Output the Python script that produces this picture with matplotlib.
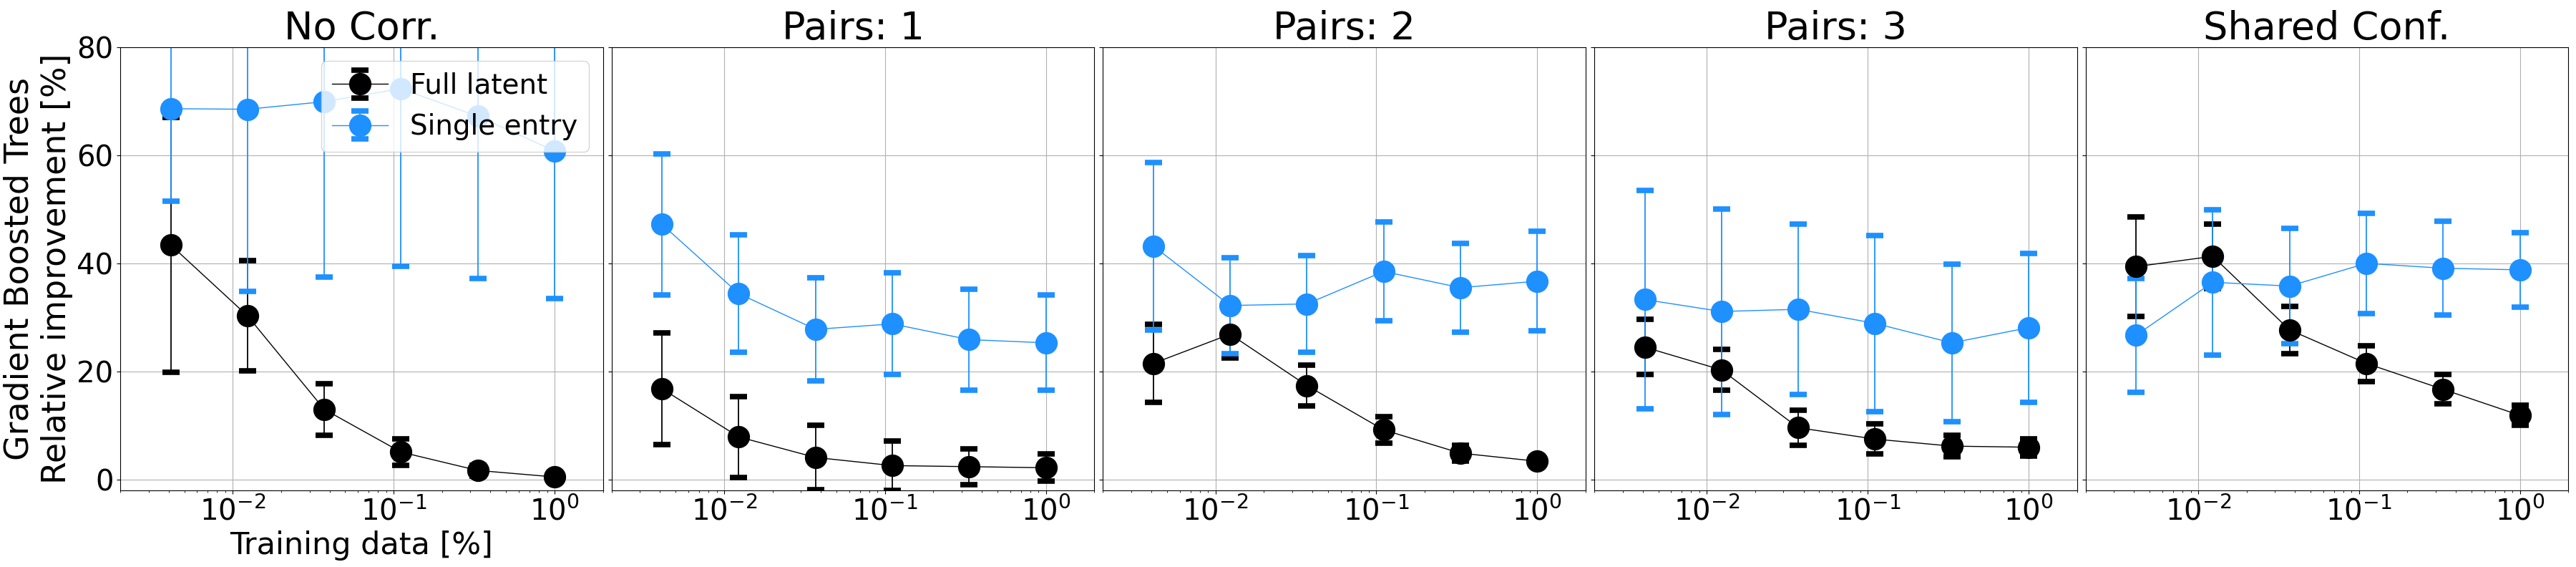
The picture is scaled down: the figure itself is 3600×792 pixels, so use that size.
import numpy as np
import matplotlib.pyplot as plt

# training fraction (same for every panel)
frac = [1/243, 1/81, 1/27, 1/9, 1/3, 1]

titles = ["No Corr.", "Pairs: 1", "Pairs: 2", "Pairs: 3", "Shared Conf."]

# Full latent : mean and error per panel
full_mean = [
    [43.4, 30.3, 13.0, 5.1, 1.7, 0.5],
    [16.8, 7.9, 4.1, 2.6, 2.4, 2.2],
    [21.5, 26.9, 17.4, 9.2, 4.9, 3.4],
    [24.5, 20.3, 9.6, 7.5, 6.2, 6.0],
    [39.4, 41.3, 27.7, 21.5, 16.7, 11.9],
]
full_err = [
    [23.6, 10.2, 4.8, 2.4, 1.0, 0.5],
    [10.3, 7.5, 5.9, 4.6, 3.3, 2.5],
    [7.2, 4.4, 3.8, 2.5, 1.4, 0.8],
    [5.1, 3.8, 3.3, 2.8, 2.0, 1.6],
    [9.2, 5.9, 4.4, 3.3, 2.7, 1.8],
]

# Single entry : mean and error per panel
single_mean = [
    [68.6, 68.5, 69.9, 72.3, 67.2, 60.8],
    [47.2, 34.4, 27.8, 28.8, 25.9, 25.3],
    [43.2, 32.2, 32.5, 38.5, 35.5, 36.7],
    [33.3, 31.1, 31.5, 28.9, 25.3, 28.1],
    [26.7, 36.5, 35.8, 40.0, 39.1, 38.8],
]
single_err = [
    [17.1, 33.7, 32.5, 32.9, 30.0, 27.3],
    [13.1, 10.9, 9.5, 9.4, 9.3, 8.8],
    [15.5, 8.9, 9.0, 9.1, 8.2, 9.2],
    [20.2, 19.0, 15.7, 16.3, 14.6, 13.8],
    [10.5, 13.4, 10.7, 9.3, 8.7, 6.9],
]

fig, axes = plt.subplots(1, 5, figsize=(36, 7.92), dpi=100, sharey=True)
fig.subplots_adjust(left=0.0467, right=0.997, top=0.917, bottom=0.135, wspace=0.018)

for i, ax in enumerate(axes):
    ax.errorbar(frac, full_mean[i], yerr=full_err[i], color='black', marker='o',
                markersize=21.5, lw=1, elinewidth=1.3, capsize=8.5, capthick=5.5,
                label='Full latent')
    ax.errorbar(frac, single_mean[i], yerr=single_err[i], color='dodgerblue', marker='o',
                markersize=21.5, lw=1, elinewidth=1.3, capsize=8.5, capthick=5.5,
                label='Single entry')
    ax.set_xscale('log')
    ax.set_xlim(2e-3, 2)
    ax.set_ylim(-2, 80)
    ax.set_yticks([0, 20, 40, 60, 80])
    ax.grid(True)
    ax.set_title(titles[i], fontsize=39)
    ax.tick_params(axis='both', which='major', labelsize=29)

axes[0].set_ylabel("Gradient Boosted Trees\nRelative improvement [%]", fontsize=33)
axes[0].set_xlabel("Training data [%]", fontsize=31)
axes[0].legend(loc='upper right', fontsize=28)

plt.savefig("out.png")
